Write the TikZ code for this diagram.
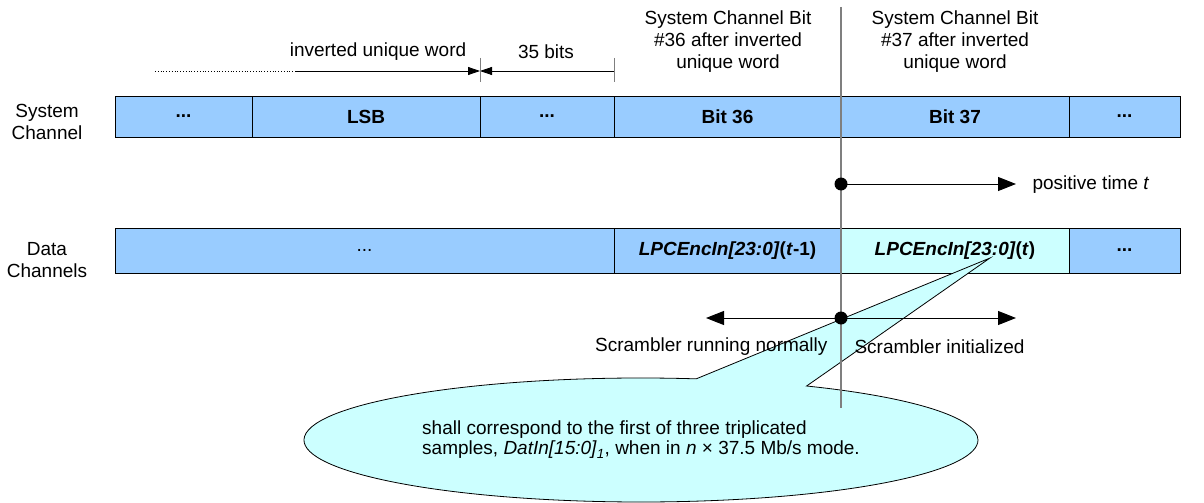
\documentclass[tikz,border=0pt]{standalone}
\usepackage{fontspec}
\setmainfont{Liberation Sans}
\usetikzlibrary{calc,arrows.meta,shapes.callouts}
\definecolor{bitblue}{HTML}{99CCFF}
\definecolor{bitcyan}{HTML}{CCFFFF}
\definecolor{markgray}{HTML}{7F7F7F}

\begin{document}
\begin{tikzpicture}[x=1pt,y=-1pt,
		font=\fontsize{19}{22}\selectfont,
		cell/.style={draw=black,line width=1pt,fill=bitblue,anchor=north west,
			inner sep=0pt,outer sep=0pt,font=\fontsize{19}{22}\selectfont\bfseries},
		chanlabel/.style={align=center},
		toplabel/.style={align=center,font=\fontsize{19}{22}\selectfont},
		bigarrow/.style={line width=1pt,-{Triangle[length=18pt,width=14pt]}},
		smallarrow/.style={line width=0.8pt,-{Triangle[length=12pt,width=8pt]}},
		tick/.style={markgray,line width=1pt},
		dot/.style={circle,fill=black,inner sep=0pt,minimum size=13pt}]
	
	\useasboundingbox (0,0) rectangle (1204,503);
	
	% system channel
	\node[cell,minimum width=137pt,minimum height=41pt] (s1) at (115,96) {...};
	\node[cell,minimum width=228pt,minimum height=41pt] (s2) at (252,96) {LSB};
	\node[cell,minimum width=134pt,minimum height=41pt] (s3) at (480,96) {...};
	\node[cell,minimum width=227pt,minimum height=41pt] (s4) at (614,96) {Bit 36};
	\node[cell,minimum width=228pt,minimum height=41pt] (s5) at (841,96) {Bit 37};
	\node[cell,minimum width=111pt,minimum height=41pt] (s6) at (1069,96) {...};
	
	% data channels
	\node[cell,minimum width=499pt,minimum height=45pt,font=\fontsize{19}{22}\selectfont] (d1) at (115,228) {...};
	\node[cell,minimum width=227pt,minimum height=45pt] (d2) at (614,228) {\textit{LPCEncIn[23:0]}(\textit{t}-1)};
	\node[cell,minimum width=228pt,minimum height=45pt,fill=bitcyan] (d3) at (841,228) {\textit{LPCEncIn[23:0]}(\textit{t})};
	\node[cell,minimum width=111pt,minimum height=45pt] (d4) at (1069,228) {...};
	
	\node[chanlabel] (syslbl) at (47,122) {System\\Channel};
	\node[chanlabel] (datalbl) at (47,260) {Data\\Channels};
	
	% callout
	\coordinate (enctip) at (990,258);
	\node[ellipse callout,draw=black,line width=0.8pt,fill=bitcyan,
		minimum width=674pt,minimum height=124pt,inner sep=0pt,
		callout absolute pointer={(enctip)},callout pointer arc=20,
		align=left,font=\fontsize{19}{20}\selectfont] (note) at (641,440)
		{shall correspond to the first of three triplicated\\
		 samples, \textit{DatIn[15:0]}\textsubscript{\textit{1}}, when in \textit{n} × 37.5 Mb/s mode.};
	
	% word markers
	\coordinate (uwstart) at (155,71);
	\coordinate (uwsolid) at (295,71);
	\coordinate (uwend) at (480,71);
	\coordinate (bitsend) at (614,71);
	\draw[dotted,line width=0.8pt] (uwstart) -- (uwsolid);
	\draw[smallarrow] (uwsolid) -- (uwend);
	\draw[smallarrow,{Triangle[length=12pt,width=8pt]}-] (uwend) -- (bitsend);
	\foreach \x in {uwend,bitsend}{
		\draw[tick] ($(\x)+(0,-13)$) -- ($(\x)+(0,11)$);}
	\node (uwlbl) at (378,52) {inverted unique word};
	\node (bitslbl) at (546,52) {35 bits};
	
	\node[toplabel] (bit36lbl) at (728,42) {System Channel Bit\\\#36 after inverted\\unique word};
	\node[toplabel] (bit37lbl) at (955,42) {System Channel Bit\\\#37 after inverted\\unique word};
	
	% time reference
	\coordinate (vtop) at (841,7);
	\coordinate (vbot) at (841,408);
	\draw[markgray,line width=1.5pt] (vtop) -- (vbot);
	
	\node[dot] (tdot) at (841,184) {};
	\coordinate (tend) at (1016,184);
	\draw[bigarrow] (tdot.center) -- (tend);
	\node[anchor=west] (timelbl) at (1029,185) {positive time \textit{t}};
	
	\node[dot] (sdot) at (841,318) {};
	\coordinate (sleft) at (706,318);
	\coordinate (sright) at (1016,318);
	\draw[bigarrow] (sdot.center) -- (sleft);
	\draw[bigarrow] (sdot.center) -- (sright);
	\node[anchor=east] (runlbl) at (831,347) {Scrambler running normally};
	\node[anchor=west] (initlbl) at (851,347) {Scrambler initialized};
\end{tikzpicture}
\end{document}
